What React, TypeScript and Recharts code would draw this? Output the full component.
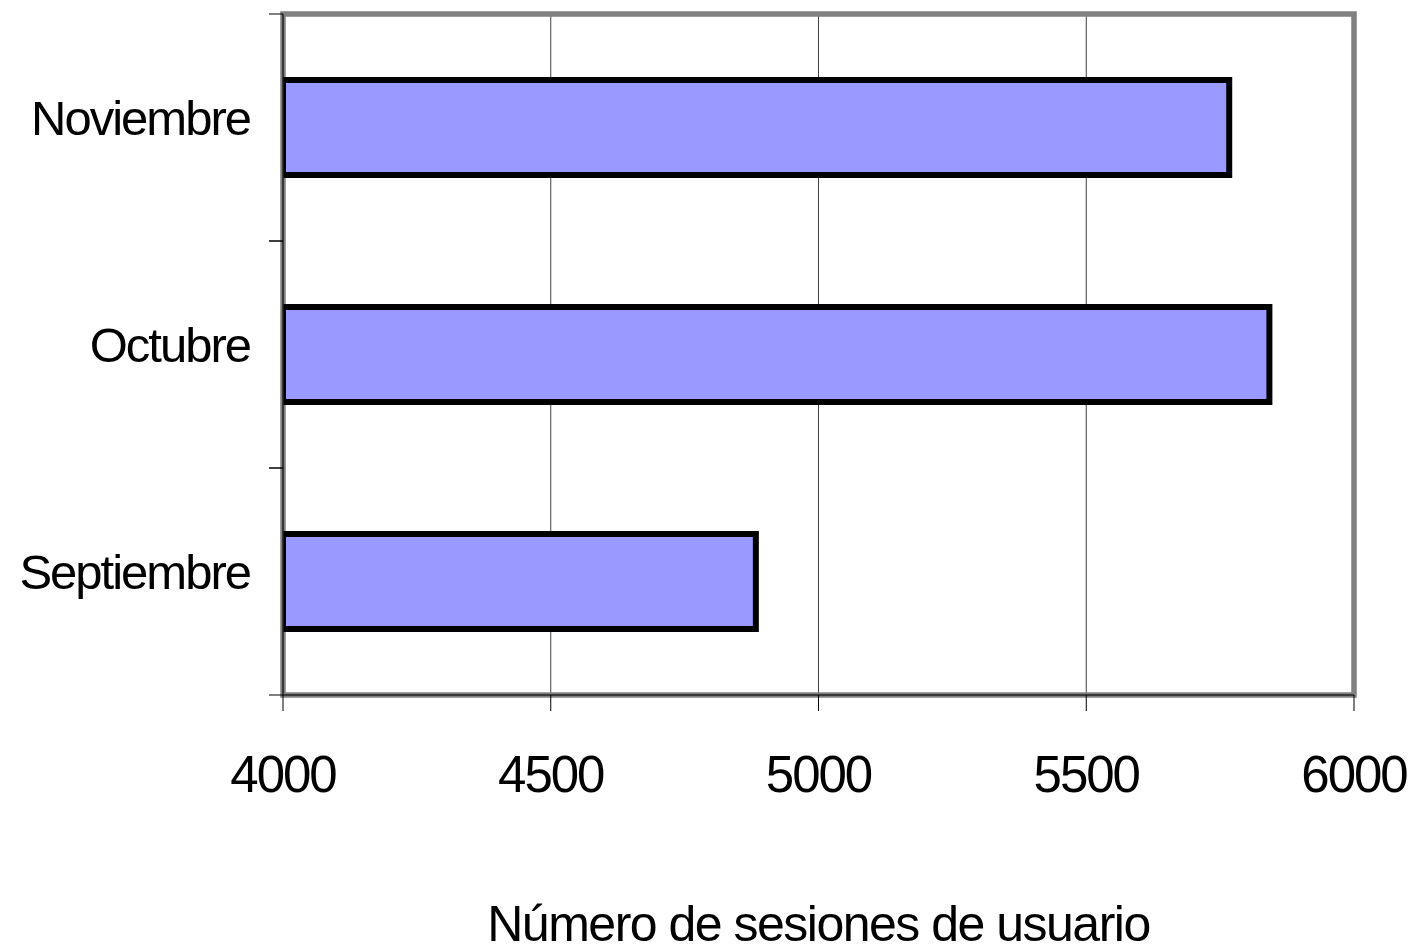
import { Bar, BarChart, CartesianGrid, Customized, XAxis, YAxis } from 'recharts';

const months = ['Septiembre', 'Octubre', 'Noviembre'];
const sessions = [4883, 5842, 5767];
const xTicks = [4000, 4500, 5000, 5500, 6000];
const axisTitle = 'Número de sesiones de usuario';

const rows = months.map((month, i) => ({ month, sessions: sessions[i] }));

const FONT = '"Liberation Sans", Arial, sans-serif';
const WIDTH = 1414;
const HEIGHT = 947;
const MARGIN = { top: 14, right: 60, bottom: 0, left: 0 };
const PLOT_LEFT = 283;
const X_AXIS_H = 252;

// category label plus the small tick marks that sit between categories
function MonthTick(props: any) {
  const { x, y, payload } = props;
  const half = payload?.offset ?? 113.5;
  return (
    <g>
      <line x1={PLOT_LEFT - 14} x2={PLOT_LEFT} y1={y - half} y2={y - half} stroke="#000" strokeWidth={1} />
      <line x1={PLOT_LEFT - 14} x2={PLOT_LEFT} y1={y + half} y2={y + half} stroke="#000" strokeWidth={1} />
      <text
        x={x}
        y={y}
        dy={7.5}
        textAnchor="end"
        fontFamily={FONT}
        fontSize={49}
        letterSpacing={-2}
        fill="#000"
      >
        {payload.value}
      </text>
    </g>
  );
}

// grey frame round the plot area
function PlotFrame() {
  return (
    <rect
      x={PLOT_LEFT}
      y={MARGIN.top}
      width={WIDTH - MARGIN.right - PLOT_LEFT}
      height={HEIGHT - X_AXIS_H - MARGIN.top}
      fill="none"
      stroke="#808080"
      strokeWidth={5.5}
    />
  );
}

export default function App() {
  return (
    <div style={{ position: 'absolute', left: 0, top: 0, background: '#fff' }}>
      <BarChart
        width={WIDTH}
        height={HEIGHT}
        data={rows}
        layout="vertical"
        margin={MARGIN}
        barCategoryGap={0}
      >
        <CartesianGrid horizontal={false} stroke="#404040" strokeWidth={1} />
        <Customized component={<PlotFrame />} />
        <XAxis
          type="number"
          dataKey="sessions"
          domain={[4000, 6000]}
          ticks={xTicks}
          allowDataOverflow
          height={X_AXIS_H}
          tickSize={16}
          tickMargin={45}
          axisLine={{ stroke: '#222', strokeWidth: 1.5 }}
          tickLine={{ stroke: '#000', strokeWidth: 1 }}
          tick={{ fontFamily: FONT, fontSize: 51, letterSpacing: -2, fill: '#000' }}
          label={{
            value: axisTitle,
            position: 'insideBottom',
            offset: 6,
            fontFamily: FONT,
            fontSize: 50,
            letterSpacing: -1.5,
            fill: '#000',
          }}
        />
        <YAxis
          type="category"
          dataKey="month"
          reversed
          width={PLOT_LEFT}
          tickLine={false}
          tickSize={0}
          tickMargin={33}
          axisLine={{ stroke: '#222', strokeWidth: 1.5 }}
          tick={<MonthTick />}
        />
        <Bar
          dataKey="sessions"
          barSize={95}
          fill="#9999ff"
          stroke="#000"
          strokeWidth={6}
          isAnimationActive={false}
        />
      </BarChart>
    </div>
  );
}
